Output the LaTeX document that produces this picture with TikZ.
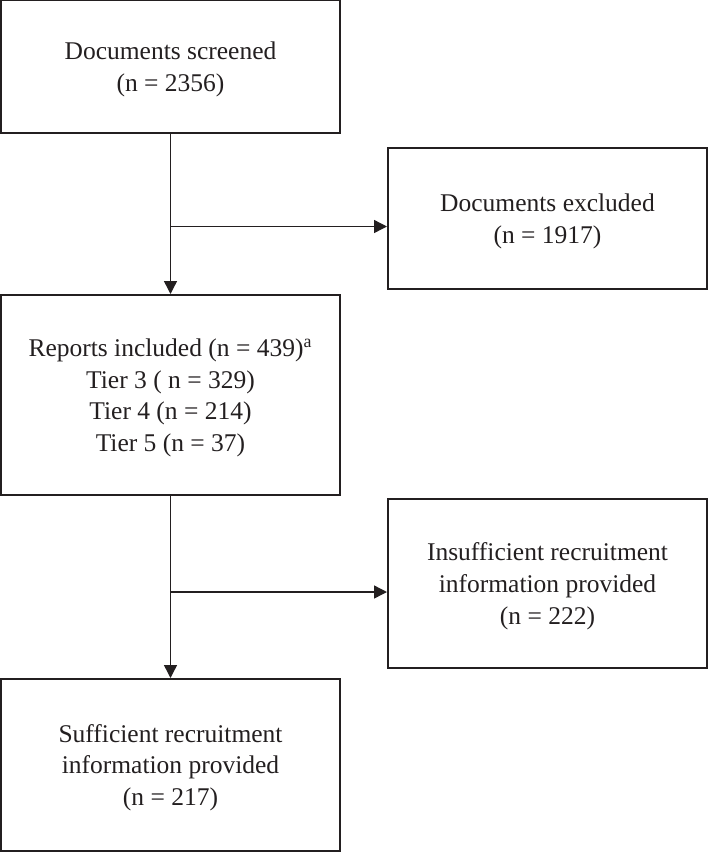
\documentclass[tikz,border=0pt]{standalone}
\usepackage{fontspec}
\setmainfont{Liberation Serif}
\usepackage{tikz}
\usetikzlibrary{arrows.meta,positioning}
\definecolor{flowline}{RGB}{35,31,32}

\begin{document}
\begin{tikzpicture}[
  x=0.5pt, y=-0.5pt,
  box/.style={rectangle, draw=flowline, line width=1pt, align=center,
    inner sep=0pt, text depth=0pt, text=flowline,
    font=\fontsize{12.75}{15.8}\selectfont},
  arrow/.style={-{Triangle[length=6.5pt,width=6.5pt]}, line width=0.7pt, draw=flowline}
]
  \useasboundingbox (0,0) rectangle (709,852);

  % Main column
  \node[box, minimum width=169.5pt, minimum height=66.5pt] (screened) at (170.5,66.5)
    {Documents screened\\(n = 2356)};
  \node[box, minimum width=169.5pt, minimum height=100pt] (reports) at (170.5,395)
    {Reports included (n = 439)\textsuperscript{a}\\Tier 3 ( n = 329)\\Tier 4 (n = 214)\\Tier 5 (n = 37)};
  \node[box, minimum width=169.5pt, minimum height=86pt] (sufficient) at (170.5,765)
    {Sufficient recruitment\\information provided\\(n = 217)};

  % Side boxes
  \node[box, minimum width=159.5pt, minimum height=70.5pt] (excluded) at (547.5,218.5)
    {Documents excluded\\(n = 1917)};
  \node[box, minimum width=159.5pt, minimum height=84.5pt] (insufficient) at (547.5,583.5)
    {Insufficient recruitment\\information provided\\(n = 222)};

  % Branch points
  \coordinate (split1) at (170.5,226.5);
  \coordinate (split2) at (170.5,592);

  % Arrows
  \draw[arrow] (screened) -- (reports);
  \draw[arrow] (split1) -- (excluded.west |- split1);
  \draw[arrow] (reports) -- (sufficient);
  \draw[arrow] (split2) -- (insufficient.west |- split2);
\end{tikzpicture}
\end{document}
